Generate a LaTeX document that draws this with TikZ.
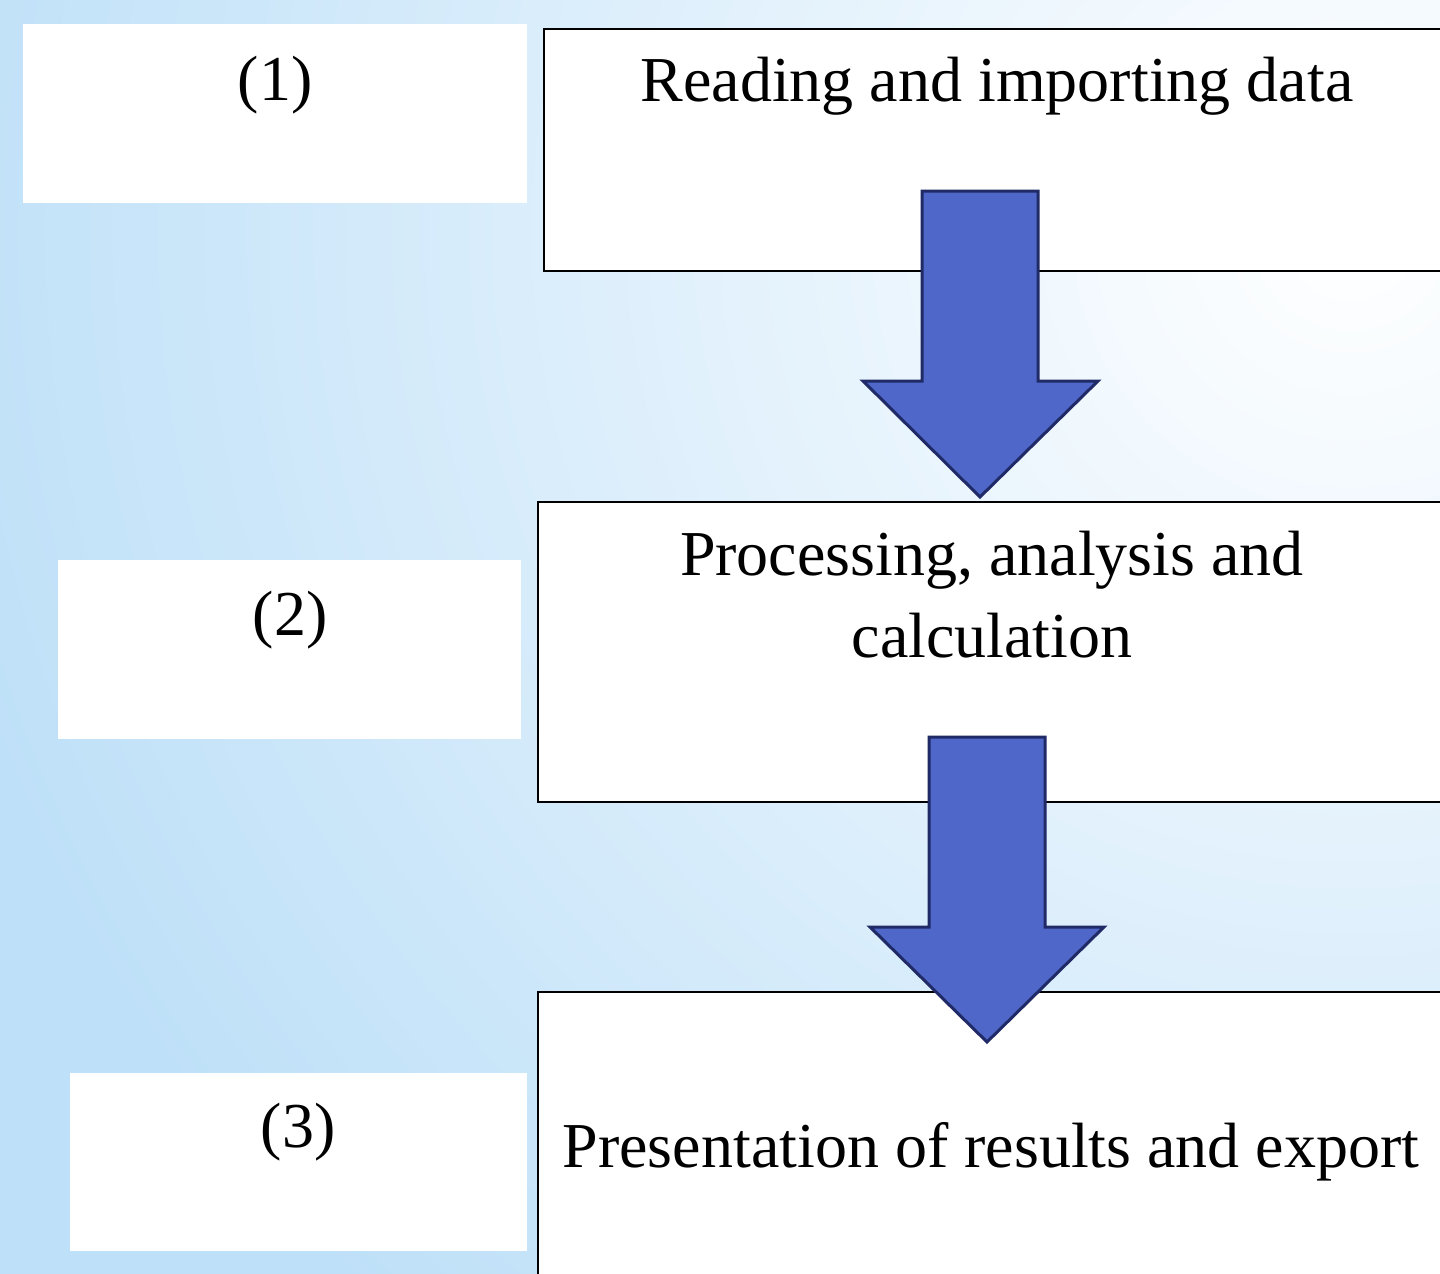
\documentclass[tikz,border=0pt]{standalone}
\usepackage{fontspec}
\setmainfont{Liberation Serif}
\definecolor{bgblue}{HTML}{BEE0F8}
\definecolor{arrowfill}{HTML}{4F67C8}
\definecolor{arrowline}{HTML}{1F2A66}
\tikzset{
  labelbox/.style={fill=white, draw=none, inner sep=0pt},
  stepbox/.style={fill=white, draw=black, line width=1.4pt, inner sep=0pt},
  bigtext/.style={font=\fontsize{64}{82}\selectfont, inner sep=0pt, anchor=base, align=center},
  blockarrow/.style={fill=arrowfill, draw=arrowline, line width=3pt, line join=miter},
}
\begin{document}
\begin{tikzpicture}[x=1pt, y=-1pt]
\useasboundingbox (0,0) rectangle (1440,1274);
\clip (0,0) rectangle (1440,1274);
% background: light blue, fading to white towards the upper right
\fill[bgblue] (0,0) rectangle (1440,1274);
\shade[inner color=white, outer color=bgblue] (1350,230) circle (1450);

% numbered label boxes on the left
\node[labelbox, minimum width=504pt, minimum height=179pt] (n1) at (275,113.5) {};
\node[labelbox, minimum width=463pt, minimum height=179pt] (n2) at (289.5,649.5) {};
\node[labelbox, minimum width=457pt, minimum height=178pt] (n3) at (298.5,1162) {};
\node[bigtext] (t1) at (275,100) {(1)};
\node[bigtext] (t2) at (290,635) {(2)};
\node[bigtext] (t3) at (298,1147) {(3)};

% process step boxes on the right
\node[stepbox, minimum width=906pt, minimum height=242pt] (s1) at (997,150) {};
\node[stepbox, minimum width=912pt, minimum height=300pt] (s2) at (994,652) {};
\node[stepbox, minimum width=912pt, minimum height=300pt] (s3) at (994,1142) {};
\node[bigtext] (r1) at (997,101) {Reading and importing data};
\node[bigtext] (r2) at (992,657) {Processing, analysis and\\calculation};
\node[bigtext] (r3) at (991,1167) {Presentation of results and export};

% block arrows between the steps
\draw[blockarrow] (922,191) -- (1038,191) -- (1038,381) -- (1098,381)
  -- (980,497) -- (863,381) -- (922,381) -- cycle;
\draw[blockarrow] (929,737) -- (1045,737) -- (1045,927) -- (1104,927)
  -- (987,1042) -- (870,927) -- (929,927) -- cycle;
\end{tikzpicture}
\end{document}
